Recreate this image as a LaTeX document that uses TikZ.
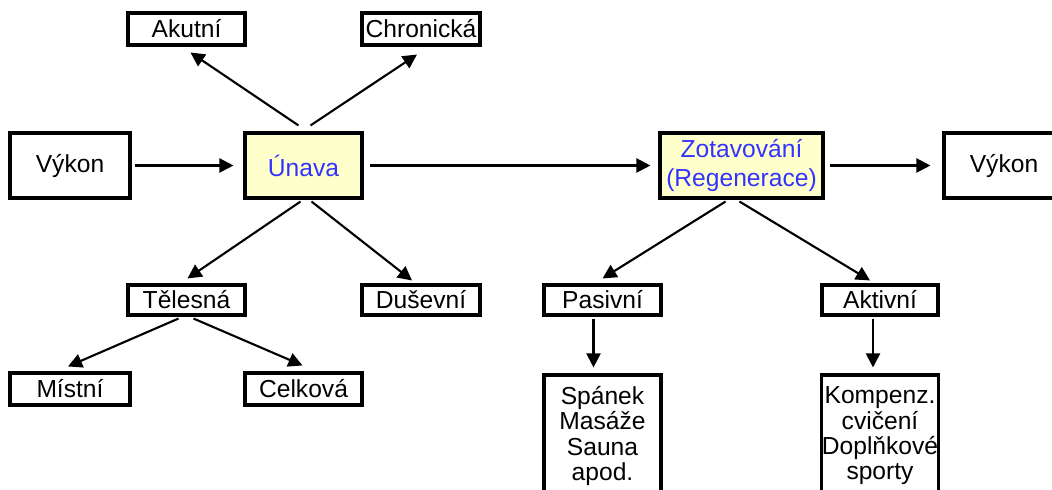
\documentclass[tikz,border=0pt]{standalone}
\usepackage{fontspec}
\setmainfont{Liberation Sans}
\usetikzlibrary{arrows.meta,calc}
\definecolor{paleyellow}{RGB}{255,255,204}
\definecolor{textblue}{RGB}{51,51,255}

\begin{document}
\begin{tikzpicture}[x=0.025cm, y=-0.025cm,
  every node/.style={draw, line width=2.2pt, inner sep=0pt, align=center, font=\fontsize{17.5}{18}\selectfont},
  sz/.style 2 args={minimum width=#1*0.025cm, minimum height=#2*0.025cm},
  hub/.style={fill=paleyellow, text=textblue},
  arr/.style={line width=1.5pt, -{Triangle[length=10pt,width=10pt]}}]
\useasboundingbox (0,0) rectangle (1052,490);
\clip (0,0) rectangle (1052,490);
\node[sz={117}{32}] (akut) at (186.5,29) {Akutní};
\node[sz={118}{32}] (chron) at (421,29) {Chronická};
\node[sz={120}{65}] (vykon1) at (70,165.5) {Výkon};
\node[sz={117}{65}, hub] (unava) at (303.5,165.5) {Únava};
\node[sz={163}{65}, hub, font=\fontsize{17.5}{21.3}\selectfont] (zotav) at (741.5,165.5) {Zotavování\\(Regenerace)};
\node[sz={120}{65}] (vykon2) at (1004,165.5) {Výkon};
\node[sz={117}{30}] (teles) at (186.5,300) {Tělesná};
\node[sz={118}{30}] (dusev) at (421,300) {Duševní};
\node[sz={120}{32}] (mistni) at (70,389) {Místní};
\node[sz={117}{32}] (celk) at (303.5,389) {Celková};
\node[sz={117}{30}] (pasiv) at (602.5,300) {Pasivní};
\node[sz={116}{30}] (aktiv) at (880,300) {Aktivní};
\node[sz={117}{122}] (pasdet) at (602.5,436) {Spánek\\Masáže\\Sauna\\apod.};
\node[sz={116}{122}] (aktdet) at (880,436) {Kompenz.\\cvičení\\Doplňkové\\sporty};

\draw[arr] ($(vykon1.east)+(3,0)$) -- ($(unava.west)+(-10,0)$);
\draw[arr] ($(unava.east)+(6,0)$) -- ($(zotav.west)+(-8,0)$);
\draw[arr] ($(zotav.east)+(5,0)$) -- ($(vykon2.west)+(-12,0)$);
\draw[arr] ($(unava.north)+(-5,-6)$) -- ($(akut.south)+(4,6)$);
\draw[arr] ($(unava.north)+(7,-6)$) -- ($(chron.south)+(-4,8)$);
\draw[arr] ($(unava.south)+(-3,2)$) -- ($(teles.north)+(1,-5)$);
\draw[arr] ($(unava.south)+(8,2)$) -- ($(dusev.north)+(-9,-3)$);
\draw[arr] ($(teles.south)+(-8,2)$) -- ($(mistni.north)+(-2,-5)$);
\draw[arr] ($(teles.south)+(7,2)$) -- ($(celk.north)+(-1,-6)$);
\draw[arr] ($(zotav.south)+(-16,2)$) -- ($(pasiv.north)+(0,-5)$);
\draw[arr] ($(zotav.south)+(-2,2)$) -- ($(aktiv.north)+(-10,-3)$);
\draw[arr] ($(pasiv.south)+(-9,2)$) -- ($(pasdet.north)+(-9,-6)$);
\draw[arr] ($(aktiv.south)+(-7,2)$) -- ($(aktdet.north)+(-7,-6)$);
\end{tikzpicture}
\end{document}
